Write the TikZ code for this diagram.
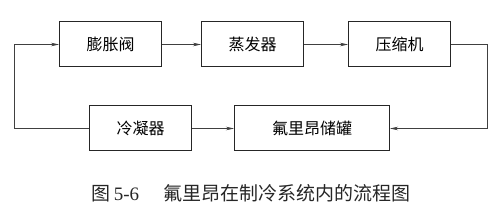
\documentclass[tikz,border=0pt]{standalone}
\usepackage{fontspec}
\setmainfont{Liberation Serif}
\newfontfamily\cjk{Noto Sans CJK SC}
\usetikzlibrary{arrows.meta,positioning}

\begin{document}
\begin{tikzpicture}[
  x=1pt,y=1pt,
  box/.style={draw=black!85,line width=1pt,minimum width=102pt,minimum height=45pt,align=center,font=\cjk\fontsize{16}{16}\selectfont},
  arr/.style={-{Stealth[length=8pt,width=3.5pt]},line width=0.6pt,draw=black!75},
  node distance=40pt
]
\useasboundingbox (0,0) rectangle (500,-216);
\node[box] (pzf) at (110.5,-44.5) {膨胀阀};
\node[box,right=39pt of pzf] (zfq) {蒸发器};
\node[box,right=44pt of zfq] (ysj) {压缩机};
\node[box] (lnq) at (140.5,-128.5) {冷凝器};
\node[box,minimum width=155pt,right=42pt of lnq] (cg) {氟里昂储罐};
\node[font=\cjk\fontsize{19}{19}\selectfont,text=black!85] (cap) at (251,-193)
  {图\,{\rmfamily 5-6}\hspace{24pt}氟里昂在制冷系统内的流程图};

\draw[arr] (pzf)--(zfq);
\draw[arr] (zfq)--(ysj);
\draw[arr] (ysj.east) -- ++(36,0) |- (cg.east);
\draw[arr] (lnq)--(cg);
\draw[arr] (lnq.west) -- ++(-75,0) |- (pzf.west);
\end{tikzpicture}
\end{document}
